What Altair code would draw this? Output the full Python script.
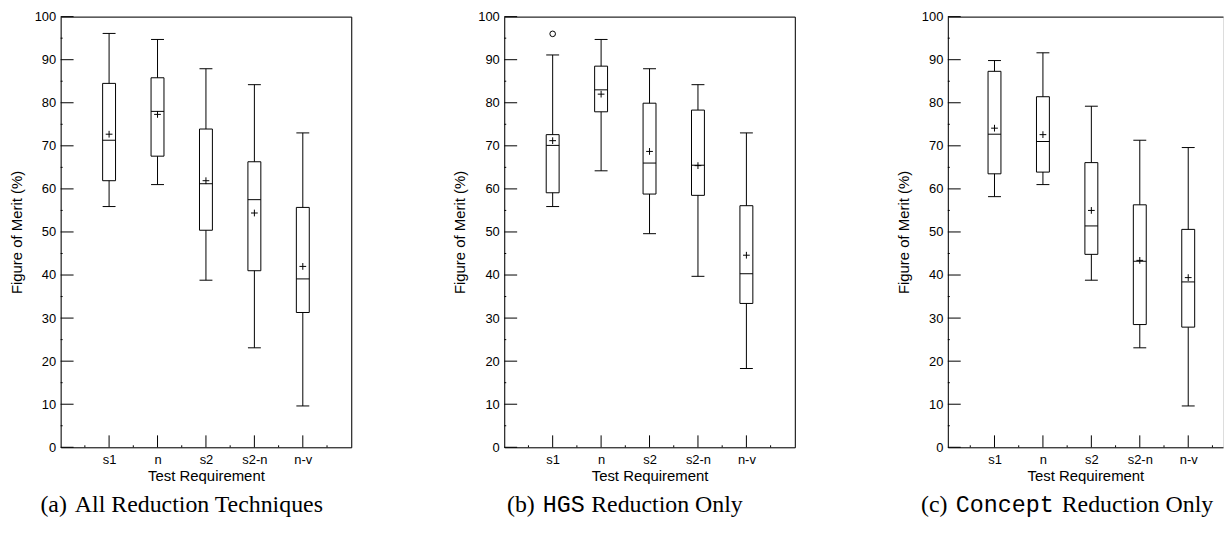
import altair as alt
import pandas as pd

categories = ["s1", "n", "s2", "s2-n", "n-v"]

# (a) All Reduction Techniques
a_lower = [55.9, 61.0, 38.8, 23.1, 9.6]
a_q1 = [61.9, 67.6, 50.4, 41.0, 31.3]
a_median = [71.3, 78.0, 61.2, 57.5, 39.1]
a_q3 = [84.5, 85.8, 73.9, 66.3, 55.7]
a_upper = [96.1, 94.7, 87.9, 84.2, 73.0]
a_mean = [72.7, 77.3, 61.9, 54.4, 42.0]

# (b) HGS Reduction Only
b_lower = [55.9, 64.2, 49.6, 39.7, 18.3]
b_q1 = [59.1, 77.9, 58.8, 58.5, 33.4]
b_median = [70.1, 83.0, 66.0, 65.5, 40.3]
b_q3 = [72.6, 88.5, 79.9, 78.3, 56.1]
b_upper = [91.1, 94.7, 87.9, 84.2, 73.0]
b_mean = [71.2, 82.0, 68.7, 65.4, 44.6]
b_outlier_cat = ["s1"]
b_outlier_val = [96.0]

# (c) Concept Reduction Only
c_lower = [58.2, 61.0, 38.8, 23.1, 9.6]
c_q1 = [63.5, 63.9, 44.8, 28.5, 27.9]
c_median = [72.7, 71.0, 51.4, 43.2, 38.4]
c_q3 = [87.3, 81.4, 66.1, 56.3, 50.6]
c_upper = [89.8, 91.6, 79.2, 71.3, 69.6]
c_mean = [74.1, 72.6, 55.0, 43.4, 39.4]

y_major = [0, 10, 20, 30, 40, 50, 60, 70, 80, 90, 100]
y_minor = [5, 15, 25, 35, 45, 55, 65, 75, 85, 95]

x_title = "Test Requirement"
y_title = "Figure of Merit (%)"

SANS = "Liberation Sans"
SERIF = "Liberation Serif"
MONO = "Liberation Mono"
H = 433.5
BOX = 13
STEP = 48.75


def panel(lower, q1, median, q3, upper, mean, width, xscale, caption, right_frame,
          out_cat=None, out_val=None):
    df = pd.DataFrame(dict(cat=categories, lower=lower, q1=q1, median=median,
                           q3=q3, upper=upper, mean=mean))
    yscale = alt.Scale(domain=[0, 100], nice=False, zero=False)

    bottom_x = alt.Axis(orient="bottom", title=x_title, labelFont=SANS, labelFontSize=13,
                        labelColor="#000", titleFont=SANS, titleFontSize=15,
                        titleFontWeight="normal", titleColor="#000", titlePadding=2,
                        labelPadding=6, ticks=False, domain=True, domainColor="#000",
                        domainWidth=1, labelAngle=0, grid=False)
    left_y = alt.Axis(orient="left", title=y_title, values=y_major, format="d",
                      labelFont=SANS, labelFontSize=13, labelColor="#000",
                      titleFont=SANS, titleFontSize=15, titleFontWeight="normal",
                      titleColor="#000", titlePadding=10, labelPadding=5, ticks=False,
                      domain=True, domainColor="#000", domainWidth=1, grid=False)
    top_x = alt.Axis(orient="top", title=None, labels=False, ticks=False, domain=True,
                     domainColor="#000", domainWidth=1, grid=False)
    right_y = alt.Axis(orient="right", title=None, labels=False, ticks=False, domain=True,
                       domainColor="#000", domainWidth=1, grid=False) if right_frame else None

    def X(axis=None):
        return alt.X("cat:N", scale=xscale, axis=axis, sort=categories)

    base = alt.Chart(df)
    whisk = base.mark_rule(color="black", strokeWidth=1).encode(
        x=X(top_x), y=alt.Y("lower:Q", scale=yscale, axis=right_y), y2="upper:Q")
    box = base.mark_bar(size=BOX, fill="white", stroke="black", strokeWidth=1, opacity=1).encode(
        x=X(bottom_x), y=alt.Y("q1:Q", scale=yscale, axis=left_y), y2="q3:Q")
    med = base.mark_tick(size=BOX, thickness=1, color="black", opacity=1).encode(
        x=X(), y=alt.Y("median:Q", scale=yscale, axis=None))
    cap_lo = base.mark_tick(size=BOX, thickness=1, color="black", opacity=1).encode(
        x=X(), y=alt.Y("lower:Q", scale=yscale, axis=None))
    cap_hi = base.mark_tick(size=BOX, thickness=1, color="black", opacity=1).encode(
        x=X(), y=alt.Y("upper:Q", scale=yscale, axis=None))
    mean_pt = base.mark_point(shape="M-1,0L1,0M0,-1L0,1", size=46, color="black",
                              strokeWidth=1, filled=False, opacity=1).encode(
        x=X(), y=alt.Y("mean:Q", scale=yscale, axis=None))
    # inner category ticks on the bottom frame
    xt = base.mark_rule(color="black", strokeWidth=1).encode(
        x=X(), y=alt.value(H), y2=alt.value(H - 12))
    xm1 = base.mark_rule(color="black", strokeWidth=1, xOffset=STEP / 2).encode(
        x=X(), y=alt.value(H), y2=alt.value(H - 2))
    xm0 = alt.Chart(df.head(1)).mark_rule(color="black", strokeWidth=1, xOffset=-STEP / 2).encode(
        x=X(), y=alt.value(H), y2=alt.value(H - 2))
    # inner ticks on the left frame
    ymaj = alt.Chart(pd.DataFrame({"v": y_major})).mark_rule(color="black", strokeWidth=1).encode(
        y=alt.Y("v:Q", scale=yscale, axis=None), x=alt.value(0), x2=alt.value(13))
    ymin = alt.Chart(pd.DataFrame({"v": y_minor})).mark_rule(color="black", strokeWidth=1).encode(
        y=alt.Y("v:Q", scale=yscale, axis=None), x=alt.value(0), x2=alt.value(2))

    layers = [whisk, box, med, cap_lo, cap_hi, mean_pt, xt, xm1, xm0, ymaj, ymin]
    if out_cat is not None:
        odf = pd.DataFrame({"cat": out_cat, "v": out_val})
        layers.append(alt.Chart(odf).mark_point(shape="circle", size=32, color="black",
                                                strokeWidth=1, filled=False, opacity=1).encode(
            x=X(), y=alt.Y("v:Q", scale=yscale, axis=None)))
    for txt, font, xr in caption:
        size = 23.5 if font == MONO else 24
        layers.append(alt.Chart(pd.DataFrame({"t": [txt]})).mark_text(
            font=font, fontSize=size, color="black", align="left", baseline="alphabetic").encode(
            text="t:N", x=alt.value(xr), y=alt.value(498.5)))
    return alt.layer(*layers).resolve_axis(x="independent", y="independent").properties(
        width=width, height=H)


scale_ab = alt.Scale(type="point", domain=categories, padding=1)
scale_c = alt.Scale(type="point", domain=categories, padding=0.841, align=0.573)

pa = panel(a_lower, a_q1, a_median, a_q3, a_upper, a_mean, 292.5, scale_ab,
           [("(a)", SERIF, -20.4), ("All Reduction Techniques", SERIF, 14.3)], True)
pb = panel(b_lower, b_q1, b_median, b_q3, b_upper, b_mean, 292.5, scale_ab,
           [("(b)", SERIF, 2.8), ("HGS", MONO, 38.8), ("Reduction Only", SERIF, 87.5)], True,
           b_outlier_cat, b_outlier_val)
pc = panel(c_lower, c_q1, c_median, c_q3, c_upper, c_mean, 277, scale_c,
           [("(c)", SERIF, -27), ("Concept", MONO, 8), ("Reduction Only", SERIF, 114.6)], False)

chart = alt.hconcat(pa, pb, pc, spacing=153.5, bounds="flush").properties(
    padding={"left": 0, "top": 0, "right": 0, "bottom": 0}
).configure_view(stroke=None).configure(background="white")

chart.save("out.html", embed_options={"renderer": "svg", "actions": False})
